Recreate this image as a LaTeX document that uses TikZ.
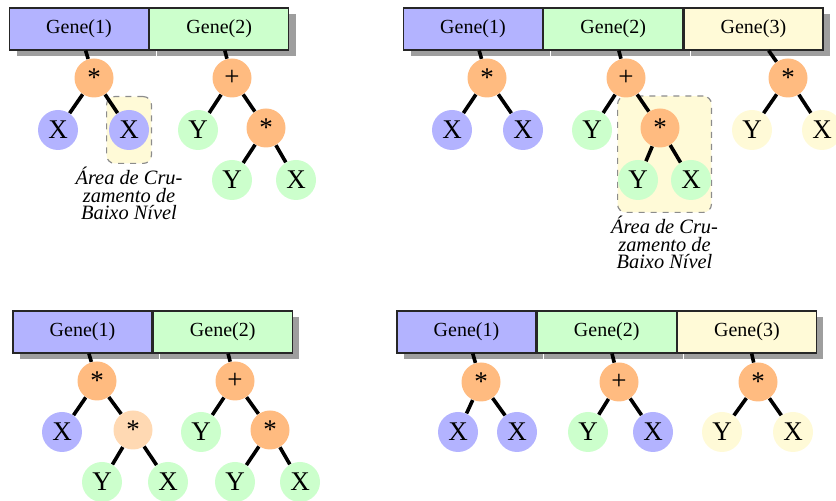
\documentclass[tikz,border=0pt]{standalone}
\usepackage{fontspec}
\setmainfont{Liberation Serif}
\usetikzlibrary{positioning,shadows,fit,backgrounds}

\definecolor{geneA}{RGB}{179,179,255}
\definecolor{geneB}{RGB}{204,255,204}
\definecolor{geneC}{RGB}{255,250,215}
\definecolor{opfill}{RGB}{255,187,128}
\definecolor{oplight}{RGB}{255,217,179}

\tikzset{
  gene/.style={draw=black!85, line width=0.6pt, minimum width=69.5pt, minimum height=21pt, inner sep=0pt,
    font=\fontsize{10}{12}\selectfont,
    drop shadow={shadow xshift=3.5pt, shadow yshift=-3pt, fill=black!38, opacity=1}},
  op/.style={circle, fill=opfill, minimum size=19.5pt, inner sep=0pt, font=\fontsize{13.5}{14}\selectfont},
  leaf/.style={circle, minimum size=20pt, inner sep=0pt, font=\fontsize{13.5}{14}\selectfont},
  edge/.style={line width=1.8pt},
  crossarea/.style={draw=black!45, dashed, rounded corners=4pt, fill=geneC, line width=0.6pt},
  crosstext/.style={font=\itshape\fontsize{10.2}{8.7}\selectfont, align=center, inner sep=0pt}
}

\begin{document}
\begin{tikzpicture}[x=0.5pt, y=-0.5pt, node distance=0pt]
\useasboundingbox (0,0) rectangle (836,501);

% top left: crossing point at a leaf of Gene(1)
\node[gene, fill=geneA] (ag1) at (79,29) {Gene(1)};
\node[gene, fill=geneB, right=of ag1] (ag2) {Gene(2)};
\node[op] (ao1) at (94,78) {*};
\node[leaf, fill=geneA] (ax1) at (58,130) {X};
\node[leaf, fill=geneA] (ax2) at (129,130) {X};
\node[op] (ao2) at (232,78) {+};
\node[leaf, fill=geneB] (ay1) at (198,130) {Y};
\node[op] (ao3) at (266,128) {*};
\node[leaf, fill=geneB] (ay2) at (232,180) {Y};
\node[leaf, fill=geneB] (ax3) at (296,180) {X};
\foreach \a/\b in {ag1/ao1, ao1/ax1, ao1/ax2, ag2/ao2, ao2/ay1, ao2/ao3, ao3/ay2, ao3/ax3}
  \draw[edge] (\a) -- (\b);
\begin{scope}[on background layer]
  \node[crossarea, fit=(ax2), inner xsep=1pt, inner ysep=6.5pt] (acr) {};
\end{scope}
\node[crosstext, below=1.5pt of acr] (atx) {Área de Cru-\\zamento de\\Baixo Nível};

% top right: crossing point at a subtree of Gene(2)
\node[gene, fill=geneA] (bg1) at (473,29) {Gene(1)};
\node[gene, fill=geneB, right=of bg1] (bg2) {Gene(2)};
\node[gene, fill=geneC, right=of bg2] (bg3) {Gene(3)};
\node[op] (bo1) at (487,78) {*};
\node[leaf, fill=geneA] (bx1) at (452,130) {X};
\node[leaf, fill=geneA] (bx2) at (523,130) {X};
\node[op] (bo2) at (626,78) {+};
\node[leaf, fill=geneB] (by1) at (592,130) {Y};
\node[op] (bo3) at (660,128) {*};
\node[leaf, fill=geneB] (by2) at (638,180) {Y};
\node[leaf, fill=geneB] (bx3) at (691,180) {X};
\node[op] (bo4) at (788,78) {*};
\node[leaf, fill=geneC] (by3) at (752,130) {Y};
\node[leaf, fill=geneC] (bx4) at (822,130) {X};
\foreach \a/\b in {bg1/bo1, bo1/bx1, bo1/bx2, bg2/bo2, bo2/by1, bo2/bo3, bo3/by2, bo3/bx3, bg3/bo4, bo4/by3, bo4/bx4}
  \draw[edge] (\a) -- (\b);
\begin{scope}[on background layer]
  \node[crossarea, fit=(bo3) (by2) (bx3), inner xsep=0pt, inner ysep=6pt] (bcr) {};
\end{scope}
\node[crosstext, below=1.5pt of bcr] (btx) {Área de Cru-\\zamento de\\Baixo Nível};

% bottom left: result of the crossing
\node[gene, fill=geneA] (cg1) at (82.5,332) {Gene(1)};
\node[gene, fill=geneB, right=of cg1] (cg2) {Gene(2)};
\node[op] (co1) at (97,381) {*};
\node[leaf, fill=geneA] (cx1) at (62,432) {X};
\node[op, fill=oplight] (co2) at (133,430) {*};
\node[leaf, fill=geneB] (cy1) at (102,482) {Y};
\node[leaf, fill=geneB] (cx2) at (168,482) {X};
\node[op] (co3) at (235,381) {+};
\node[leaf, fill=geneB] (cy2) at (201,432) {Y};
\node[op] (co4) at (270,430) {*};
\node[leaf, fill=geneB] (cy3) at (235,482) {Y};
\node[leaf, fill=geneB] (cx3) at (300,482) {X};
\foreach \a/\b in {cg1/co1, co1/cx1, co1/co2, co2/cy1, co2/cx2, cg2/co3, co3/cy2, co3/co4, co4/cy3, co4/cx3}
  \draw[edge] (\a) -- (\b);

% bottom right: result of the crossing
\node[gene, fill=geneA] (dg1) at (466.5,332) {Gene(1)};
\node[gene, fill=geneB, right=of dg1] (dg2) {Gene(2)};
\node[gene, fill=geneC, right=of dg2] (dg3) {Gene(3)};
\node[op] (do1) at (481,382) {*};
\node[leaf, fill=geneA] (dx1) at (458,432) {X};
\node[leaf, fill=geneA] (dx2) at (517,432) {X};
\node[op] (do2) at (619,382) {+};
\node[leaf, fill=geneB] (dy1) at (588,432) {Y};
\node[leaf, fill=geneA] (dx3) at (653,432) {X};
\node[op] (do3) at (758,382) {*};
\node[leaf, fill=geneC] (dy2) at (722,432) {Y};
\node[leaf, fill=geneC] (dx4) at (793,432) {X};
\foreach \a/\b in {dg1/do1, do1/dx1, do1/dx2, dg2/do2, do2/dy1, do2/dx3, dg3/do3, do3/dy2, do3/dx4}
  \draw[edge] (\a) -- (\b);
\end{tikzpicture}
\end{document}
